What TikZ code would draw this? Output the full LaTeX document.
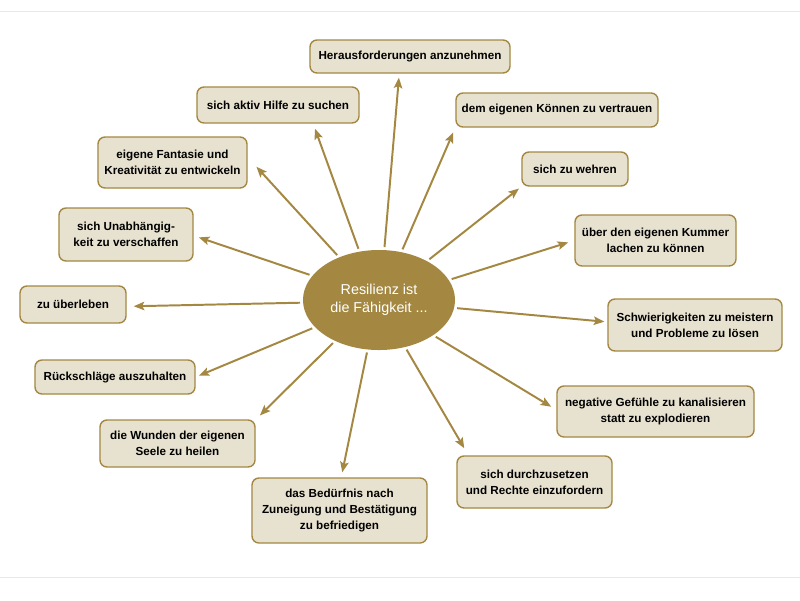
\documentclass[tikz,border=0pt]{standalone}
\usepackage{fontspec}
\setmainfont{Liberation Sans}
\usepackage{tikz}
\usetikzlibrary{arrows.meta,shapes.geometric}

\definecolor{goldTone}{RGB}{164,136,66}
\definecolor{paperTone}{RGB}{231,225,207}
\definecolor{ruleGray}{RGB}{232,232,232}

\begin{document}
\begin{tikzpicture}[
  x=0.025cm, y=-0.025cm,
  skillBox/.style={rectangle, rounded corners=5pt, draw=goldTone,
    line width=1pt, fill=paperTone, align=center, inner sep=0pt,
    font=\bfseries\fontsize{8.3}{11.4}\selectfont},
  hubNode/.style={ellipse, fill=goldTone, text=white, align=center,
    inner sep=0pt, minimum width=3.8cm, minimum height=2.5cm,
    font=\fontsize{10.2}{12.8}\selectfont},
  spoke/.style={draw=goldTone, line width=1.4pt, shorten <=2pt,
    -{Stealth[length=7.5pt, width=6pt, inset=1.5pt]}},
  hairRule/.style={ruleGray, line width=0.7pt}
]
\useasboundingbox (0,0) rectangle (800,600);
\draw[hairRule] (0,11) coordinate (r1) -- (800,11) coordinate (r2);
\draw[hairRule] (0,577) coordinate (r3) -- (800,577) coordinate (r4);

\node[hubNode] (hub) at (379,300) {Resilienz ist\\die Fähigkeit ...};

% the abilities, clockwise from the top
\node[skillBox, minimum width=5cm, minimum height=0.825cm] (s1) at (410,56.5)
  {Herausforderungen anzunehmen};
\node[skillBox, minimum width=5.05cm, minimum height=0.85cm] (s2) at (557,110)
  {dem eigenen Können zu vertrauen};
\node[skillBox, minimum width=2.65cm, minimum height=0.85cm] (s3) at (575,169)
  {sich zu wehren};
\node[skillBox, minimum width=4.025cm, minimum height=1.275cm] (s4) at (655.5,240.5)
  {über den eigenen Kummer\\lachen zu können};
\node[skillBox, minimum width=4.35cm, minimum height=1.3cm] (s5) at (695,325)
  {Schwierigkeiten zu meistern\\und Probleme zu lösen};
\node[skillBox, minimum width=4.925cm, minimum height=1.275cm] (s6) at (655.5,411.5)
  {negative Gefühle zu kanalisieren\\statt zu explodieren};
\node[skillBox, minimum width=3.875cm, minimum height=1.3cm] (s7) at (534.5,482)
  {sich durchzusetzen\\und Rechte einzufordern};
\node[skillBox, minimum width=4.375cm, minimum height=1.625cm] (s8) at (339.5,510.5)
  {das Bedürfnis nach\\Zuneigung und Bestätigung\\zu befriedigen};
\node[skillBox, minimum width=3.875cm, minimum height=1.175cm] (s9) at (177.5,443.5)
  {die Wunden der eigenen\\Seele zu heilen};
\node[skillBox, minimum width=4cm, minimum height=0.85cm] (s10) at (115,377)
  {Rückschläge auszuhalten};
\node[skillBox, minimum width=2.65cm, minimum height=0.925cm] (s11) at (73,304.5)
  {zu überleben};
\node[skillBox, minimum width=3.35cm, minimum height=1.325cm] (s12) at (126,234.5)
  {sich Unabhängig-\\keit zu verschaffen};
\node[skillBox, minimum width=3.725cm, minimum height=1.275cm] (s13) at (172.5,162.5)
  {eigene Fantasie und\\Kreativität zu entwickeln};
\node[skillBox, minimum width=4.05cm, minimum height=0.9cm] (s14) at (278,105)
  {sich aktiv Hilfe zu suchen};

% spokes
\draw[spoke, shorten >=2.8pt] (hub.84.6) -- (s1.238.8);
\draw[spoke, shorten >=3.6pt] (hub.65.2) -- (s2.south west);
\draw[spoke, shorten >=2.1pt] (hub.39.4) -- (s3.south west);
\draw[spoke, shorten >=4.5pt] (hub.16.5) -- (s4.180.5);
\draw[spoke, shorten >=2.1pt] (hub.-6.7) -- (s5.178.7);
\draw[spoke, shorten >=4.2pt] (hub.-33) -- (s6.179.7);
\draw[spoke, shorten >=5.8pt] (hub.-61.2) -- (s7.158);
\draw[spoke, shorten >=3.6pt] (hub.257.5) -- (s8.87.4);
\draw[spoke, shorten >=4.2pt] (hub.223.8) -- (s9.17.7);
\draw[spoke, shorten >=2.3pt] (hub.203.4) -- (s10.0);
\draw[spoke, shorten >=5pt] (hub.182.2) -- (s11.-2.7);
\draw[spoke, shorten >=3.8pt] (hub.160.6) -- (s12.-1.3);
\draw[spoke, shorten >=9.2pt] (hub.133) -- (s13.4.2);
\draw[spoke, shorten >=3.8pt] (hub.112) -- (s14.332.1);
\end{tikzpicture}
\end{document}
